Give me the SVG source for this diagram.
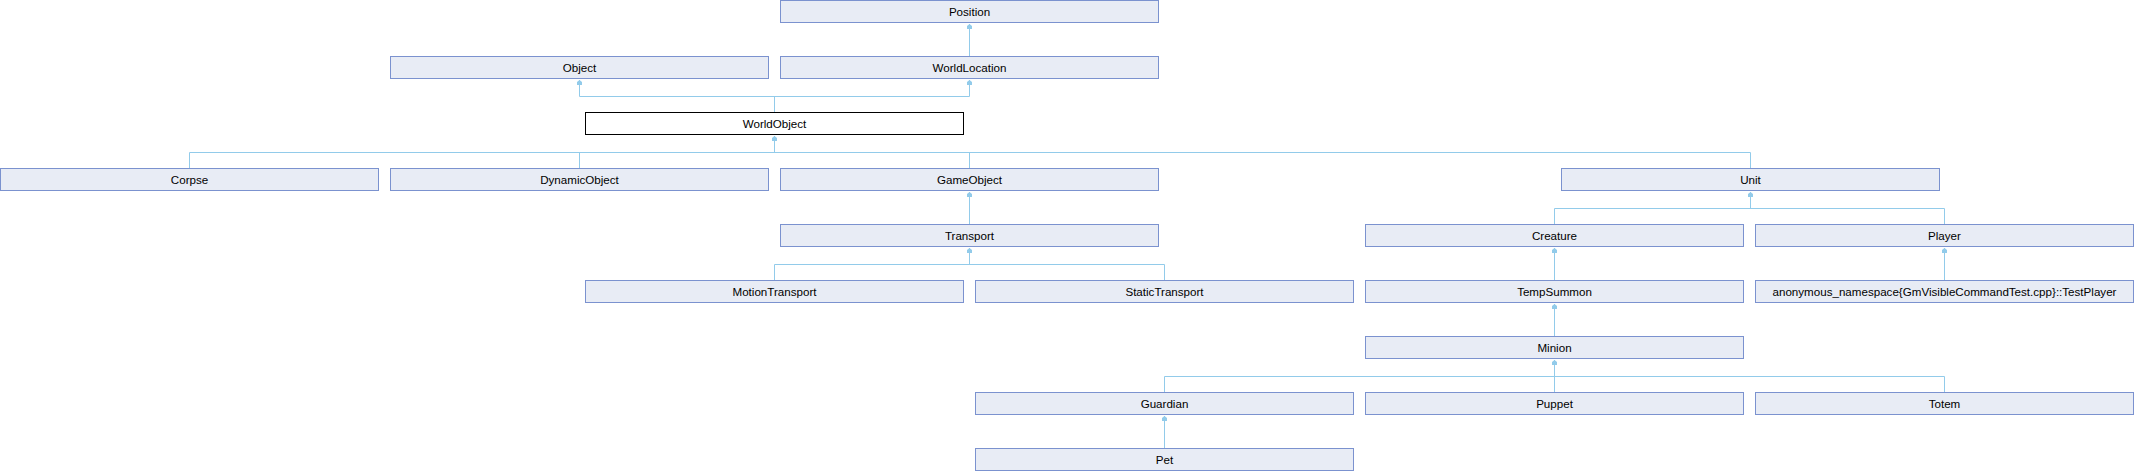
<svg xmlns="http://www.w3.org/2000/svg" xmlns:xlink="http://www.w3.org/1999/xlink" width="2135" height="472" viewBox="0 0 2135 472">
<style>
.box rect{fill:#E8ECF5;stroke:#7B92CF;stroke-width:1}
.box.cur rect{fill:#FFFFFF;stroke:#000000}
.box text{font-family:"Liberation Sans",Arial,sans-serif;font-size:11.6px;fill:#000000;text-anchor:middle}
.conn path{fill:none;stroke:#92CBEA;stroke-width:1}
.conn use{fill:#92CBEA}
</style>
<defs>
<path id="ah" d="M0,1 L2.5,3 L2.5,6 L-2.5,6 L-2.5,3 Z"/>
</defs>
<rect width="2135" height="472" fill="#FFFFFF"/>
<g id="connectors" class="conn">
<path d="M969.5,56 V24"/>
<path d="M774.5,112 V96.5 M579.5,80 V96.5 H969.5 V80"/>
<path d="M774.5,136 V152.5 M189.5,168 V152.5 H1750.5 V168 M579.5,152.5 V168 M969.5,152.5 V168"/>
<path d="M969.5,224 V192"/>
<path d="M969.5,248 V264.5 M774.5,280 V264.5 H1164.5 V280"/>
<path d="M1750.5,192 V208.5 M1554.5,224 V208.5 H1944.5 V224"/>
<path d="M1554.5,280 V248"/>
<path d="M1944.5,280 V248"/>
<path d="M1554.5,336 V304"/>
<path d="M1554.5,360 V376.5 M1164.5,392 V376.5 H1944.5 V392 M1554.5,376.5 V392"/>
<path d="M1164.5,448 V416"/>
<use xlink:href="#ah" x="969.5" y="23"/>
<use xlink:href="#ah" x="579.5" y="79"/>
<use xlink:href="#ah" x="969.5" y="79"/>
<use xlink:href="#ah" x="774.5" y="135"/>
<use xlink:href="#ah" x="969.5" y="191"/>
<use xlink:href="#ah" x="969.5" y="247"/>
<use xlink:href="#ah" x="1750.5" y="191"/>
<use xlink:href="#ah" x="1554.5" y="247"/>
<use xlink:href="#ah" x="1944.5" y="247"/>
<use xlink:href="#ah" x="1554.5" y="303"/>
<use xlink:href="#ah" x="1554.5" y="359"/>
<use xlink:href="#ah" x="1164.5" y="415"/>
</g>
<g id="Position" class="box"><rect x="780.5" y="0.5" width="378" height="22"/><text x="969.5" y="15.5">Position</text></g>
<g id="Object" class="box"><rect x="390.5" y="56.5" width="378" height="22"/><text x="579.5" y="71.5">Object</text></g>
<g id="WorldLocation" class="box"><rect x="780.5" y="56.5" width="378" height="22"/><text x="969.5" y="71.5">WorldLocation</text></g>
<g id="WorldObject" class="box cur"><rect x="585.5" y="112.5" width="378" height="22"/><text x="774.5" y="127.5">WorldObject</text></g>
<g id="Corpse" class="box"><rect x="0.5" y="168.5" width="378" height="22"/><text x="189.5" y="183.5">Corpse</text></g>
<g id="DynamicObject" class="box"><rect x="390.5" y="168.5" width="378" height="22"/><text x="579.5" y="183.5">DynamicObject</text></g>
<g id="GameObject" class="box"><rect x="780.5" y="168.5" width="378" height="22"/><text x="969.5" y="183.5">GameObject</text></g>
<g id="Unit" class="box"><rect x="1561.5" y="168.5" width="378" height="22"/><text x="1750.5" y="183.5">Unit</text></g>
<g id="Transport" class="box"><rect x="780.5" y="224.5" width="378" height="22"/><text x="969.5" y="239.5">Transport</text></g>
<g id="Creature" class="box"><rect x="1365.5" y="224.5" width="378" height="22"/><text x="1554.5" y="239.5">Creature</text></g>
<g id="Player" class="box"><rect x="1755.5" y="224.5" width="378" height="22"/><text x="1944.5" y="239.5">Player</text></g>
<g id="MotionTransport" class="box"><rect x="585.5" y="280.5" width="378" height="22"/><text x="774.5" y="295.5">MotionTransport</text></g>
<g id="StaticTransport" class="box"><rect x="975.5" y="280.5" width="378" height="22"/><text x="1164.5" y="295.5">StaticTransport</text></g>
<g id="TempSummon" class="box"><rect x="1365.5" y="280.5" width="378" height="22"/><text x="1554.5" y="295.5">TempSummon</text></g>
<g id="TestPlayer" class="box"><rect x="1755.5" y="280.5" width="378" height="22"/><text x="1944.5" y="295.5">anonymous_namespace{GmVisibleCommandTest.cpp}::TestPlayer</text></g>
<g id="Minion" class="box"><rect x="1365.5" y="336.5" width="378" height="22"/><text x="1554.5" y="351.5">Minion</text></g>
<g id="Guardian" class="box"><rect x="975.5" y="392.5" width="378" height="22"/><text x="1164.5" y="407.5">Guardian</text></g>
<g id="Puppet" class="box"><rect x="1365.5" y="392.5" width="378" height="22"/><text x="1554.5" y="407.5">Puppet</text></g>
<g id="Totem" class="box"><rect x="1755.5" y="392.5" width="378" height="22"/><text x="1944.5" y="407.5">Totem</text></g>
<g id="Pet" class="box"><rect x="975.5" y="448.5" width="378" height="22"/><text x="1164.5" y="463.5">Pet</text></g>
</svg>
